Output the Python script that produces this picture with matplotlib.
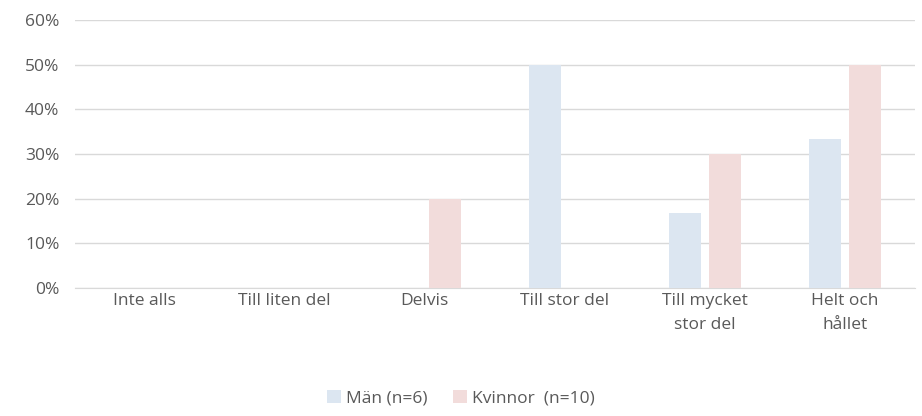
import numpy as np
import matplotlib
matplotlib.use('Agg')
from matplotlib import pyplot as plt

categories = ['Inte alls', 'Till liten del', 'Delvis', 'Till stor del',
              'Till mycket\nstor del', 'Helt och\nhållet']
man = [0, 0, 0, 50, 16.7, 33.3]
kvinnor = [0, 0, 20, 0, 30, 50]
yticks = [0, 10, 20, 30, 40, 50, 60]

plt.rcParams['font.family'] = ['Open Sans', 'DejaVu Sans']
txt = '#595959'
fs = 12.5

fig = plt.figure(figsize=(9.22, 4.16), dpi=100)
ax = fig.add_axes([0.081, 0.308, 0.911, 0.644])

x = np.arange(len(categories))
w = 0.23
ax.bar(x - 0.143, man, w, color='#DCE6F1', label='Män (n=6)', zorder=3)
ax.bar(x + 0.143, kvinnor, w, color='#F2DCDB', label='Kvinnor  (n=10)', zorder=3)

ax.set_xlim(-0.5, len(categories) - 0.5)
ax.set_ylim(0, 60)
ax.set_yticks(yticks)
ax.set_yticklabels(['{}%'.format(v) for v in yticks], color=txt, fontsize=fs)
ax.set_xticks(x)
ax.set_xticklabels(categories, color=txt, fontsize=fs, linespacing=1.6)
ax.tick_params(axis='x', length=0, pad=4)
ax.tick_params(axis='y', length=0, pad=11)
ax.grid(axis='y', color='#D9D9D9', linewidth=1, zorder=0)
for s in ['top', 'right', 'left']:
    ax.spines[s].set_visible(False)
ax.spines['bottom'].set_color('#D9D9D9')

fig.legend(loc='center', bbox_to_anchor=(0.5, 0.043), ncol=2, frameon=False,
           fontsize=fs, labelcolor=txt, handlelength=0.8, handleheight=0.8,
           handletextpad=0.3, columnspacing=1.5)

fig.savefig('out.png', dpi=100)
